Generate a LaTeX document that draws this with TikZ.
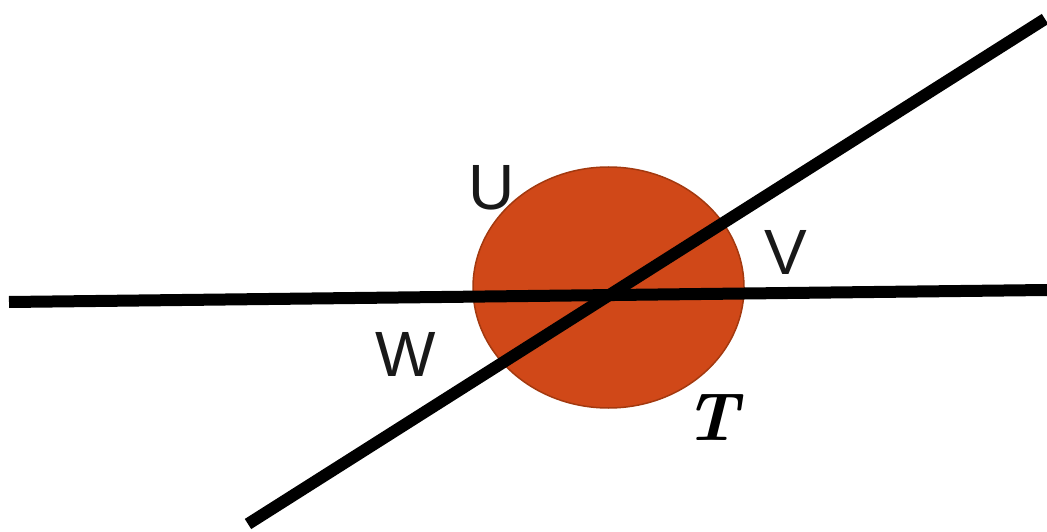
\documentclass[tikz,border=0pt]{standalone}
\usepackage{fontspec}
\usetikzlibrary{shapes.geometric}
\newfontfamily\labelfont{Liberation Sans}
\definecolor{blobfill}{HTML}{D04818}
\definecolor{blobedge}{HTML}{A3390F}
\tikzset{
  thickline/.style={line width=12pt,black},
  ptlabel/.style={font=\labelfont\fontsize{64}{64}\selectfont,text=black!90,inner sep=0pt}
}
\begin{document}
\begin{tikzpicture}[x=1pt,y=-1pt]
  \useasboundingbox (0,0) rectangle (1047,532);
  % the region
  \node[ellipse,draw=blobedge,line width=1.5pt,fill=blobfill,minimum width=271pt,minimum height=241pt,inner sep=0pt] (blob) at (608.5,287.5) {};
  % line ends
  \coordinate (hl) at (9,302);
  \coordinate (hr) at (1047,290);
  \coordinate (dl) at (248,524);
  \coordinate (dr) at (1045,19);
  \draw[thickline] (hl) -- (hr);
  \draw[thickline] (dl) -- (dr);
  % labels
  \node[ptlabel] (U) at (492,188) {U};
  \node[ptlabel] (V) at (786,252) {V};
  \node[ptlabel] (W) at (406,354) {W};
  \node[inner sep=0pt,font=\fontsize{68}{68}\selectfont\bfseries\itshape] (T) at (712,418) {T};
\end{tikzpicture}
\end{document}
